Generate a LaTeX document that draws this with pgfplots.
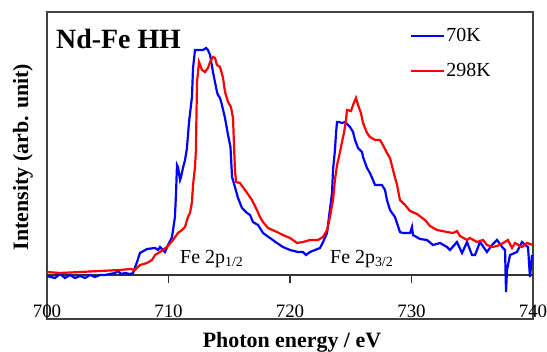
\documentclass[border=0pt]{standalone}
\usepackage{fontspec}
\setmainfont{Liberation Serif}
\usepackage{pgfplots}
\usepackage{pgfplotstable}
\pgfplotsset{compat=1.18}
\pgfplotstableread{
E I
700.00 -1
700.66 -3
701.07 1
701.48 -3
701.89 0
702.30 -3
702.72 -1
703.13 -3
703.54 0
703.95 -2
704.36 0
704.77 0
705.19 1
705.60 2
705.84 4
706.09 1
706.42 2
706.83 1
707.08 2
707.41 13
707.65 22
708.23 26
708.89 27
709.14 25
709.30 28
709.71 23
709.96 30
710.29 38
710.53 58
710.62 82
710.70 110
710.78 108
710.95 95
711.03 98
711.19 107
711.36 115
711.52 127
711.69 153
711.93 178
712.02 207
712.18 225
712.43 225
712.59 225
712.84 225
713.09 227
713.25 225
713.42 220
713.66 203
713.99 183
714.07 180
714.24 177
714.40 170
714.65 157
714.90 140
715.10 128
715.23 98
715.47 88
715.72 77
716.05 67
716.46 62
716.71 60
716.95 53
717.37 50
717.78 42
718.35 37
718.93 32
719.42 28
720.00 25
720.66 23
721.07 23
721.32 20
721.65 23
722.06 25
722.47 27
722.72 33
723.05 42
723.21 58
723.46 82
723.54 105
723.70 125
723.79 142
723.87 153
724.03 153
724.28 152
724.53 153
724.94 148
725.19 143
725.35 135
725.60 127
725.93 123
726.01 118
726.34 107
726.58 102
726.83 95
727.00 90
727.57 90
727.82 85
727.98 75
728.23 65
728.64 58
729.05 43
729.30 42
729.88 42
730.04 48
730.12 40
730.70 36
731.28 35
731.77 30
732.35 32
732.92 28
733.17 25
733.74 33
734.16 22
734.57 33
734.98 20
735.23 20
735.64 33
736.21 23
736.63 30
737.04 35
737.53 27
737.70 25
737.78 -17
737.86 5
738.11 20
738.68 23
739.09 33
739.34 30
739.59 28
739.75 -2
739.92 20
}\lowT
\pgfplotstableread{
E I
700.00 3
701.07 2
702.72 3
704.36 4
706.01 5
706.83 6
707.24 5
707.65 10
708.23 12
708.64 15
708.89 20
709.30 23
709.88 28
710.37 35
710.78 42
711.11 45
711.36 48
711.60 58
711.77 62
711.93 73
712.02 90
712.18 108
712.26 125
712.30 160
712.35 193
712.51 213
712.76 205
713.00 203
713.25 207
713.42 213
713.66 218
713.83 217
713.99 210
714.24 208
714.49 197
714.65 183
714.90 173
715.14 168
715.31 157
715.39 130
715.47 105
715.56 93
715.88 92
716.30 85
716.87 75
717.28 65
717.53 58
717.78 53
718.19 47
718.93 43
719.42 40
720.00 37
720.58 32
721.07 33
721.65 35
722.30 35
722.72 38
723.05 45
723.29 58
723.54 75
723.70 95
723.87 110
724.03 118
724.28 133
724.44 142
724.61 155
724.69 165
725.02 164
725.19 170
725.43 177
725.60 170
725.84 162
726.01 152
726.34 142
726.58 138
727.00 135
727.41 135
727.65 130
727.98 122
728.23 117
728.48 105
728.81 90
729.05 75
729.47 70
729.88 64
730.45 61
731.11 55
731.52 49
732.10 45
732.92 43
733.42 42
733.74 44
733.99 39
734.57 35
734.81 37
735.39 33
735.88 35
736.21 30
736.71 28
737.28 30
737.94 35
738.27 27
738.52 32
739.09 28
739.51 32
740.00 30
}\roomT
\begin{document}
\begin{tikzpicture}
\path[use as bounding box] (-47bp,-33bp) rectangle (500bp,319bp);
\begin{axis}[
  at={(0,0)}, anchor=south west,
  scale only axis, width=486bp, height=307bp,
  xmin=700, xmax=740, ymin=-44, ymax=263,
  axis line style={draw=black!75, line width=1.2bp},
  xtick={700,710,...,740},
  ytick=\empty,
  major tick length=0pt,
  /pgf/number format/assume math mode=true,
  xticklabel style={anchor=south, inner sep=0pt, yshift=1bp, font=\fontsize{19}{22}\selectfont},
  legend style={draw=none, fill=none, at={(rel axis cs:0.747,0.95)}, anchor=north west,
    font=\fontsize{20}{24}\selectfont, row sep=18bp, inner sep=0pt,
    nodes={inner sep=1bp}, cells={anchor=west}},
  legend image code/.code={\draw[#1] (0bp,0bp) -- (33bp,0bp);},
  clip mode=individual,
]
\draw[black!80, line width=1.2bp] (axis cs:700,0) -- (axis cs:740,0);
\pgfplotsinvokeforeach{710,720,730}{\draw[black!80, line width=1.2bp] (axis cs:#1,0) -- (axis cs:#1,-8);}
\addplot[blue, line width=2.2bp] table[x=E, y=I] {\lowT};
\addlegendentry{70K}
\addplot[red, line width=2.2bp] table[x=E, y=I] {\roomT};
\addlegendentry{298K}
\node[anchor=base west, inner sep=0pt, font=\fontsize{28}{32}\selectfont\bfseries] at (rel axis cs:0.0185,0.8795) {Nd-Fe HH};
\node[anchor=base west, inner sep=0pt, font=\fontsize{20}{24}\selectfont] at (axis cs:710.95,12) {Fe 2p\textsubscript{1/2}};
\node[anchor=base west, inner sep=0pt, font=\fontsize{20}{24}\selectfont] at (axis cs:723.29,12) {Fe 2p\textsubscript{3/2}};
\node[anchor=base, inner sep=0pt, font=\fontsize{22}{26}\selectfont\bfseries, yshift=-28bp] at (rel axis cs:0.504,0) {Photon energy / eV};
\node[xshift=-24bp, rotate=90, anchor=center, inner sep=0pt, font=\fontsize{22}{26}\selectfont\bfseries] at (rel axis cs:0,0.528) {Intensity (arb. unit)};
\end{axis}
\end{tikzpicture}
\end{document}
